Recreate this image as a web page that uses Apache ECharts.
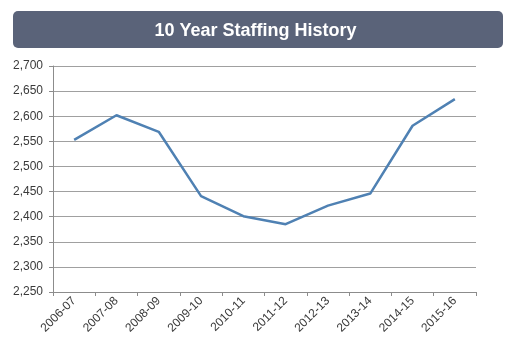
<!DOCTYPE html>
<html><head><meta charset="utf-8">
<script src="https://cdn.jsdelivr.net/npm/echarts@6/dist/echarts.min.js"></script>
<style>html,body{margin:0;padding:0;background:#fff}#c{width:511px;height:356px}</style>
</head><body><div id="c"></div>
<script>
const years = ['2006-07','2007-08','2008-09','2009-10','2010-11','2011-12','2012-13','2013-14','2014-15','2015-16'];
const staffing = [2553, 2602, 2569, 2441, 2401, 2385, 2422, 2446, 2581, 2634];
const chartTitle = '10 Year Staffing History';

const chart = echarts.init(document.getElementById('c'));
chart.setOption({
  animation: false,
  backgroundColor: '#ffffff',
  graphic: [{
    type: 'rect', left: 13, top: 11, z: 0,
    shape: { width: 490, height: 37, r: 5 },
    style: { fill: '#5a6379' }
  }],
  title: {
    text: chartTitle, left: 'center', top: 17,
    textStyle: { color: '#ffffff', fontSize: 18, fontWeight: 'bold', fontFamily: 'Liberation Sans, Arial, sans-serif' }
  },
  grid: { left: 53, right: 35, top: 66, bottom: 64 },
  xAxis: {
    type: 'category', data: years, boundaryGap: true,
    axisLine: { lineStyle: { color: '#8c8c8c', width: 1 } },
    axisTick: { show: true, length: 4, lineStyle: { color: '#8c8c8c' } },
    axisLabel: { rotate: 45, fontSize: 12, color: '#3a3a3a', fontFamily: 'Liberation Sans, Arial, sans-serif', margin: 7 }
  },
  yAxis: {
    type: 'value', min: 2250, max: 2700, interval: 50,
    axisLine: { show: true, lineStyle: { color: '#8c8c8c', width: 1 } },
    axisTick: { show: true, length: 4, lineStyle: { color: '#8c8c8c' } },
    splitLine: { lineStyle: { color: '#a0a0a0', width: 1 } },
    axisLabel: {
      fontSize: 12, color: '#3a3a3a', fontFamily: 'Liberation Sans, Arial, sans-serif', margin: 10,
      formatter: v => v.toLocaleString('en-US')
    }
  },
  series: [{
    type: 'line', data: staffing, symbol: 'none',
    lineStyle: { color: '#4f81b3', width: 2.5 }
  }]
});
</script></body></html>
